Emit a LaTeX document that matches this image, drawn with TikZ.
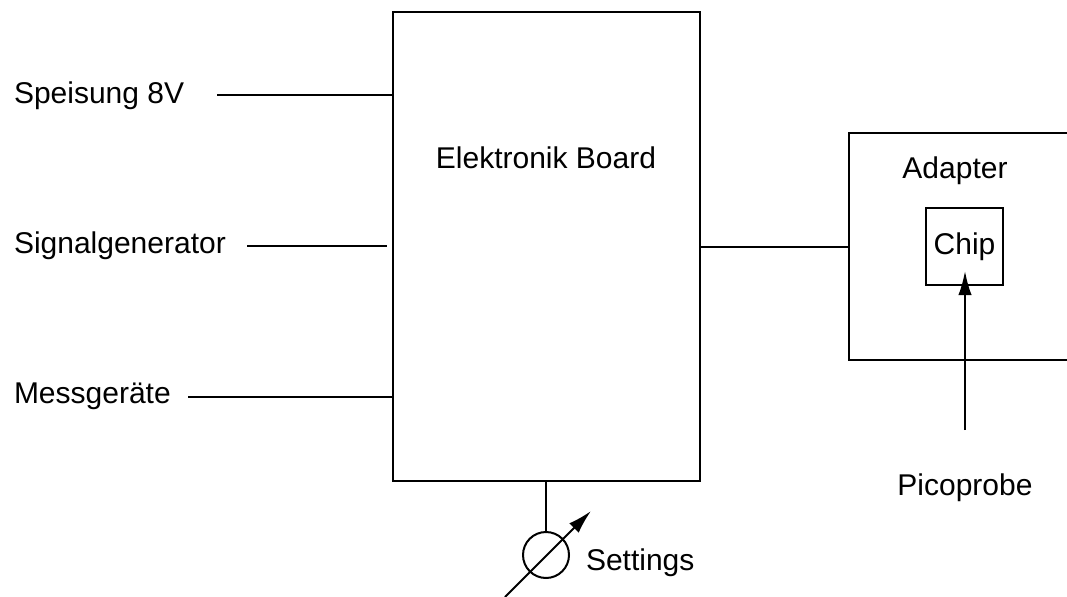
\documentclass[tikz,border=0pt]{standalone}
\usepackage{fontspec}
\setmainfont{Liberation Sans}
\usetikzlibrary{arrows.meta}
\begin{document}
\begin{tikzpicture}[x=0.75pt,y=-0.75pt,
  line width=1.5pt,
  lbl/.style={font=\fontsize{22.5}{27}\selectfont,inner sep=0pt},
  box/.style={draw,rectangle,inner sep=0pt},
  arr/.style={-{Latex[length=18pt,width=10pt]}}]
\useasboundingbox (0,0) rectangle (1067,596);
% Board
\node[box,minimum width=230.25pt,minimum height=351.75pt] (board) at (546.5,246.5) {};
\node[lbl,anchor=base] (boardlbl) at (546,168) {Elektronik Board};
% Inputs
\node[lbl,anchor=base west] (spe) at (13,103) {Speisung 8V};
\node[lbl,anchor=base west] (sig) at (13,253) {Signalgenerator};
\node[lbl,anchor=base west] (mes) at (13,403) {Messger\"ate};
\coordinate (speA) at (217,95);
\coordinate (sigA) at (247,246);
\coordinate (sigB) at (387,246);
\coordinate (mesA) at (188,397);
\draw (speA) -- (speA -| board.west);
\draw (sigA) -- (sigB);
\draw (mesA) -- (mesA -| board.west);
% Adapter
\node[box,minimum width=173.25pt,minimum height=170.25pt] (adapter) at (964.5,246.5) {};
\node[lbl,anchor=base] (adlbl) at (955,178) {Adapter};
\node[box,lbl,draw,minimum width=57.75pt,minimum height=57.75pt] (chip) at (964.5,246.5) {Chip};
\draw (board.east |- adapter.west) -- (adapter.west);
% Picoprobe
\node[lbl,anchor=base] (pico) at (965,495) {Picoprobe};
\coordinate (ppA) at (965,430);
\coordinate (ppB) at (965,271);
\draw[arr] (ppA) -- (ppB);
% Settings
\node[draw,circle,minimum size=34.5pt,inner sep=0pt] (meter) at (546,555) {};
\draw (board.south -| meter.north) -- (meter.north);
\coordinate (setA) at (505,597);
\coordinate (setB) at (591,511);
\draw[arr] (setA) -- (setB);
\node[lbl,anchor=base west] (setlbl) at (585,570) {Settings};
\end{tikzpicture}
\end{document}
